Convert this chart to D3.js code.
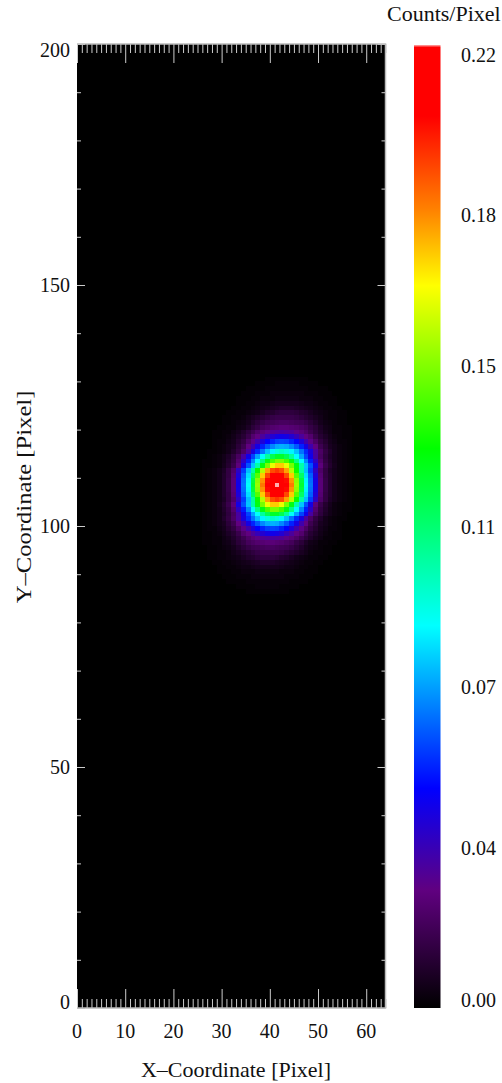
<!DOCTYPE html>
<html><head><meta charset="utf-8">
<script src="https://cdn.jsdelivr.net/npm/d3@7/dist/d3.min.js"></script>
<style>html,body{margin:0;padding:0;background:#fff}svg{display:block}text{font-family:"Liberation Serif","Times New Roman",serif;fill:#111}</style>
</head><body><svg id="c" width="502" height="1083"></svg>
<script>
// image size in detector pixels
const xMax = 64, yMax = 200;
const xMajorTicks = [0,10,20,30,40,50,60];
const yMajorTicks = [0,50,100,150,200];
const barLabels = ["0.00","0.04","0.07","0.11","0.15","0.18","0.22"];
const barMax = 0.22;
// colour table positions (fraction of bar height) and colours
const colorStops = [0,0.1225,0.228,0.397,0.581,0.75,0.83,0.926,0.9975,1];
const colorValues = ["#000000","#600080","#0000ff","#00ffff","#00ff00","#ffff00","#ff8000","#ff0000","#ff0000","#ffb0b0"];
// first column and top row of the window of image cells that hold flux
const firstCol = 26, topRow = 130;
// flux in 0.001 counts/pixel, top row first; everything else is 0
const flux = [
[0,0,0,0,0,0,0,0,0,0,0,0,0,1,1,1,1,1,1,1,1,1,0,0,0,0,0,0,0,0,0],
[0,0,0,0,0,0,0,0,0,0,0,1,1,1,1,2,2,2,2,2,1,1,1,1,0,0,0,0,0,0,0],
[0,0,0,0,0,0,0,0,0,1,1,1,1,2,2,2,2,2,2,2,2,2,1,1,1,1,0,0,0,0,0],
[0,0,0,0,0,0,0,0,1,1,1,2,2,2,3,3,3,3,3,3,3,2,2,2,1,1,1,0,0,0,0],
[0,0,0,0,0,0,0,1,1,1,2,2,3,3,3,4,4,4,4,4,3,3,3,2,2,1,1,1,0,0,0],
[0,0,0,0,0,0,0,1,1,2,2,3,4,4,5,6,6,6,6,6,5,4,4,3,2,2,1,1,0,0,0],
[0,0,0,0,0,0,1,1,2,2,3,4,5,6,7,8,9,9,9,8,7,6,5,4,3,2,2,1,1,0,0],
[0,0,0,0,0,1,1,2,2,3,4,5,7,9,10,12,13,13,13,12,10,9,7,5,4,3,2,2,1,1,0],
[0,0,0,0,1,1,2,2,3,5,7,9,11,13,15,16,16,16,16,15,13,11,9,7,5,3,2,2,1,1,0],
[0,0,0,0,1,1,2,3,4,6,9,12,15,17,18,19,20,20,19,18,17,15,12,9,6,4,3,2,1,1,0],
[0,0,0,1,1,2,2,4,5,8,12,15,19,21,23,24,25,25,24,23,21,19,15,12,8,5,4,2,2,1,1],
[0,0,1,1,2,2,4,6,9,13,17,22,25,28,31,32,33,32,31,28,25,22,17,13,9,6,4,2,2,1,1],
[0,0,1,1,2,3,5,8,11,16,23,27,32,37,42,45,46,45,42,37,32,27,23,16,11,8,5,3,2,1,1],
[0,0,1,2,2,4,6,10,14,21,28,35,43,50,55,59,60,59,55,50,43,35,28,21,14,10,6,4,2,2,1],
[0,0,1,2,3,5,7,12,17,27,35,45,55,63,70,75,76,75,70,63,55,45,35,27,17,12,7,5,3,2,1],
[0,1,1,2,3,5,9,14,21,32,44,56,67,78,86,93,96,93,86,78,67,56,44,32,21,14,9,5,3,2,1],
[0,1,2,3,5,8,13,20,33,46,60,74,88,103,115,121,121,115,103,88,74,60,46,33,20,13,8,5,3,2,1],
[1,1,2,3,5,9,14,23,39,54,70,87,107,125,138,145,145,138,125,107,87,70,54,39,23,14,9,5,3,2,1],
[1,1,2,3,6,10,16,26,45,62,79,101,125,145,162,172,172,162,145,125,101,79,62,45,26,16,10,6,3,2,1],
[1,2,3,5,8,14,22,39,59,78,102,129,154,178,191,195,191,178,154,129,102,78,59,39,22,14,8,5,3,2,1],
[1,2,3,5,9,14,24,43,64,83,112,140,172,192,206,208,206,192,172,140,112,83,64,43,24,14,9,5,3,2,1],
[1,2,3,5,9,15,25,45,66,86,118,148,180,202,212,215,212,202,180,148,118,86,66,45,25,15,9,5,3,2,1],
[1,2,3,5,9,15,25,46,67,88,120,150,184,205,214,220,214,205,184,150,120,88,67,46,25,15,9,5,3,2,1],
[1,2,3,5,9,15,25,45,66,86,118,148,180,202,212,215,212,202,180,148,118,86,66,45,25,15,9,5,3,2,1],
[1,2,3,5,9,14,24,43,64,83,112,140,172,192,206,208,206,192,172,140,112,83,64,43,24,14,9,5,3,2,1],
[1,2,3,5,8,14,22,39,59,78,102,129,154,178,191,195,191,178,154,129,102,78,59,39,22,14,8,5,3,2,1],
[1,2,3,6,10,16,26,45,62,79,101,125,145,162,172,172,162,145,125,101,79,62,45,26,16,10,6,3,2,1,1],
[1,2,3,5,9,14,23,39,54,70,87,107,125,138,145,145,138,125,107,87,70,54,39,23,14,9,5,3,2,1,1],
[1,2,3,5,8,13,20,33,46,60,74,88,103,115,121,121,115,103,88,74,60,46,33,20,13,8,5,3,2,1,0],
[1,2,3,5,9,14,21,32,44,56,67,78,86,93,96,93,86,78,67,56,44,32,21,14,9,5,3,2,1,1,0],
[1,2,3,5,7,12,17,27,35,45,55,63,70,75,76,75,70,63,55,45,35,27,17,12,7,5,3,2,1,0,0],
[1,2,2,4,6,10,14,21,28,35,43,50,55,59,60,59,55,50,43,35,28,21,14,10,6,4,2,2,1,0,0],
[1,1,2,3,5,8,11,16,23,27,32,37,42,45,46,45,42,37,32,27,23,16,11,8,5,3,2,1,1,0,0],
[1,1,2,2,4,6,9,13,17,22,25,28,31,32,33,32,31,28,25,22,17,13,9,6,4,2,2,1,1,0,0],
[1,1,2,2,4,5,8,12,15,19,21,23,24,25,25,24,23,21,19,15,12,8,5,4,2,2,1,1,0,0,0],
[0,1,1,2,3,4,6,9,12,15,17,18,19,20,20,19,18,17,15,12,9,6,4,3,2,1,1,0,0,0,0],
[0,1,1,2,2,3,5,7,9,11,13,15,16,16,16,16,15,13,11,9,7,5,3,2,2,1,1,0,0,0,0],
[0,1,1,2,2,3,4,5,7,9,10,12,13,13,13,12,10,9,7,5,4,3,2,2,1,1,0,0,0,0,0],
[0,0,1,1,2,2,3,4,5,6,7,8,9,9,9,8,7,6,5,4,3,2,2,1,1,0,0,0,0,0,0],
[0,0,0,1,1,2,2,3,4,4,5,6,6,6,6,6,5,4,4,3,2,2,1,1,0,0,0,0,0,0,0],
[0,0,0,1,1,1,2,2,3,3,3,4,4,4,4,4,3,3,3,2,2,1,1,1,0,0,0,0,0,0,0],
[0,0,0,0,1,1,1,2,2,2,3,3,3,3,3,3,3,2,2,2,1,1,1,0,0,0,0,0,0,0,0],
[0,0,0,0,0,1,1,1,1,2,2,2,2,2,2,2,2,2,1,1,1,1,0,0,0,0,0,0,0,0,0],
[0,0,0,0,0,0,0,1,1,1,1,2,2,2,2,2,1,1,1,1,0,0,0,0,0,0,0,0,0,0,0],
[0,0,0,0,0,0,0,0,0,1,1,1,1,1,1,1,1,1,0,0,0,0,0,0,0,0,0,0,0,0,0]
];

const plot = {left:77, right:385.5, top:44, bottom:1008};
const bar = {left:414, right:440.5, top:45, bottom:1008};
const x = d3.scaleLinear().domain([0,xMax]).range([plot.left,plot.right]);
const y = d3.scaleLinear().domain([0,yMax]).range([plot.bottom,plot.top]);
const color = d3.scaleLinear().domain(colorStops.map(t=>t*barMax)).range(colorValues).clamp(true);
const svg = d3.select("#c");

svg.append("rect").attr("x",plot.left).attr("y",plot.top)
   .attr("width",plot.right-plot.left).attr("height",plot.bottom-plot.top).attr("fill","#000");

const cells = flux.flatMap((r,i)=>r.map((v,j)=>({col:firstCol+j,row:topRow-i,v:v/1000})));
svg.append("g").attr("shape-rendering","crispEdges").selectAll("rect").data(cells).join("rect")
   .attr("x",d=>x(d.col)).attr("y",d=>y(d.row+1))
   .attr("width",d=>x(d.col+1)-x(d.col)+0.5).attr("height",d=>y(d.row)-y(d.row+1)+0.5)
   .attr("fill",d=>color(d.v));

function ticks(axis,pos,vals,size){
  const g = svg.append("g").attr("transform",pos)
    .call(axis.tickValues(vals).tickSize(size).tickFormat(""));
  g.select(".domain").remove();
  g.selectAll("line").attr("stroke","#ccc").attr("stroke-width",1);
}
const minorX = d3.range(0,xMax+1).filter(v=>v%10);
ticks(d3.axisBottom(x),`translate(0,${plot.top})`,minorX,9);
ticks(d3.axisBottom(x),`translate(0,${plot.top})`,xMajorTicks,19);
ticks(d3.axisTop(x),`translate(0,${plot.bottom})`,minorX,9);
ticks(d3.axisTop(x),`translate(0,${plot.bottom})`,xMajorTicks,19);
const minorY = d3.range(0,yMax+1,10).filter(v=>v%50);
ticks(d3.axisRight(y),`translate(${plot.left},0)`,minorY,4);
ticks(d3.axisRight(y),`translate(${plot.left},0)`,yMajorTicks,8);
ticks(d3.axisLeft(y),`translate(${plot.right},0)`,minorY,4);
ticks(d3.axisLeft(y),`translate(${plot.right},0)`,yMajorTicks,8);

svg.append("path")
  .attr("d",`M${plot.left},${plot.top}H${plot.right}V${plot.bottom}H${plot.left}`)
  .attr("fill","none").attr("stroke","#bbb").attr("stroke-width",1.5);

const fs = 20, titleFs = 22;
svg.append("g").selectAll("text").data(xMajorTicks).join("text")
   .attr("x",d=>x(d)).attr("y",1038).attr("text-anchor","middle").attr("font-size",fs).text(d=>d);
const clampY = v=>Math.max(plot.top+13,Math.min(plot.bottom+1,v+7));
svg.append("g").selectAll("text").data(yMajorTicks).join("text")
   .attr("x",70).attr("y",d=>clampY(y(d))).attr("text-anchor","end").attr("font-size",fs).text(d=>d);

svg.append("text").attr("x",236).attr("y",1077).attr("text-anchor","middle").attr("font-size",titleFs)
   .text("X\u2013Coordinate [Pixel]");
svg.append("text").attr("transform","translate(31,497) rotate(-90) scale(1.12,1)").attr("text-anchor","middle")
   .attr("font-size",titleFs).text("Y\u2013Coordinate [Pixel]");
svg.append("text").attr("x",387).attr("y",21).attr("font-size",titleFs).text("Counts/Pixel");

// colour bar
const defs = svg.append("defs");
const grad = defs.append("linearGradient").attr("id","bar").attr("x1",0).attr("x2",0).attr("y1",1).attr("y2",0);
grad.selectAll("stop").data(colorStops).join("stop")
   .attr("offset",d=>d).attr("stop-color",(d,i)=>colorValues[i]);
svg.append("rect").attr("x",bar.left).attr("y",bar.top).attr("width",bar.right-bar.left)
   .attr("height",bar.bottom-bar.top).attr("fill","url(#bar)");
const by = d3.scalePoint().domain(barLabels).range([bar.bottom,bar.top]);
const labelNudge = {"0.18":9};
svg.append("g").selectAll("text").data(barLabels).join("text")
   .attr("x",461).attr("y",d=>Math.max(62,Math.min(1007,by(d)+7+(labelNudge[d]||0)))).attr("font-size",fs).text(d=>d);
</script></body></html>
